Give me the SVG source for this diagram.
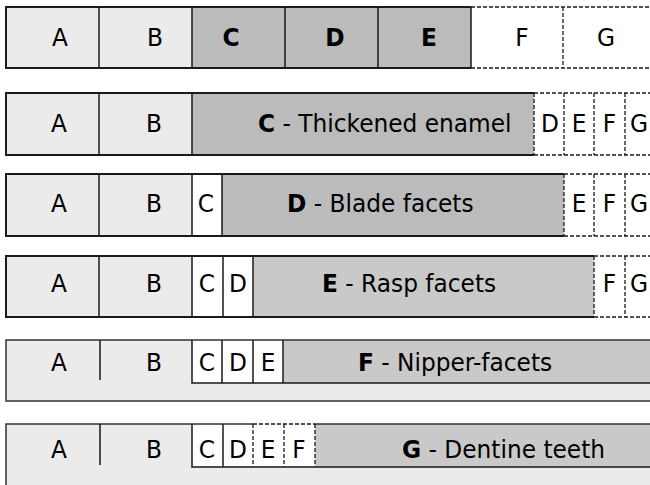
<svg xmlns="http://www.w3.org/2000/svg" width="650" height="485" viewBox="0 0 650 485">
<style>
.lt{fill:#ebebeb}
.g1{fill:#bbbbbb}
.g2{fill:#c9c9c9}
.w{fill:#ffffff}
.ol{stroke:#1a1a1a;stroke-width:2;fill:none}
.ln{stroke:#1a1a1a;stroke-width:1.5;fill:none}
.th{stroke:#333333;stroke-width:1.5;fill:none}
.ds{stroke:#1a1a1a;stroke-width:1.3;stroke-dasharray:4 2;fill:none}
text{font-family:"DejaVu Sans",Verdana,sans-serif;font-size:23.3px;fill:#000;text-anchor:middle}
.b{font-weight:bold}
.st{text-anchor:start}
</style>
<rect width="650" height="485" fill="#ffffff"/>

<g id="row1">
  <rect class="lt" x="6" y="7" width="186" height="61"/>
  <rect class="g1" x="192" y="7" width="279" height="61"/>
  <rect class="w" x="471" y="7" width="181" height="61"/>
  <path class="ol" d="M471,7 H6 V68 H471"/>
  <path class="ln" d="M99,7 V68 M192,7 V68 M285,7 V68 M378,7 V68 M471,7 V68"/>
  <path class="ds" d="M471,7 H652 M471,68 H652 M563,7 V68"/>
  <g transform="matrix(1 0 0 1.07 0 -3.22)">
  <text x="60" y="46">A</text>
  <text x="155" y="46">B</text>
  <text class="b" x="231" y="46">C</text>
  <text class="b" x="335" y="46">D</text>
  <text class="b" x="429" y="46">E</text>
  <text x="522" y="46">F</text>
  <text x="606" y="46">G</text>
  </g>
</g>

<g id="row2">
  <rect class="lt" x="6" y="93" width="186" height="62"/>
  <rect class="g1" x="192" y="93" width="342" height="62"/>
  <rect class="w" x="534" y="93" width="118" height="62"/>
  <path class="ol" d="M534,93 H6 V155 H534"/>
  <path class="ln" d="M99,93 V155 M192,93 V155"/>
  <path class="ds" d="M534,93 H652 M534,155 H652 M534,93 V155 M564,93 V155 M594,93 V155 M625,93 V155"/>
  <g transform="matrix(1 0 0 1.07 0 -9.24)">
  <text x="59" y="132">A</text>
  <text x="154" y="132">B</text>
  <text class="st" x="258" y="132"><tspan class="b">C</tspan> - Thickened enamel</text>
  <text x="550" y="132">D</text>
  <text x="579" y="132">E</text>
  <text x="609.5" y="132">F</text>
  <text x="639" y="132">G</text>
  </g>
</g>

<g id="row3">
  <rect class="lt" x="6" y="174" width="186" height="62"/>
  <rect class="w" x="192" y="174" width="30" height="62"/>
  <rect class="g1" x="222" y="174" width="342" height="62"/>
  <rect class="w" x="564" y="174" width="88" height="62"/>
  <path class="ol" d="M564,174 H6 V236 H564"/>
  <path class="ln" d="M99,174 V236 M192,174 V236 M222,174 V236"/>
  <path class="ds" d="M564,174 H652 M564,236 H652 M564,174 V236 M594,174 V236 M625,174 V236"/>
  <g transform="matrix(1 0 0 1.07 0 -14.84)">
  <text x="59" y="212">A</text>
  <text x="154" y="212">B</text>
  <text x="206" y="212">C</text>
  <text class="st" x="287" y="212"><tspan class="b">D</tspan> - Blade facets</text>
  <text x="579" y="212">E</text>
  <text x="609.5" y="212">F</text>
  <text x="639" y="212">G</text>
  </g>
</g>

<g id="row4">
  <rect class="lt" x="6" y="256" width="186" height="61"/>
  <rect class="w" x="192" y="256" width="61" height="61"/>
  <rect class="g2" x="253" y="256" width="341" height="61"/>
  <rect class="w" x="594" y="256" width="58" height="61"/>
  <path class="ol" d="M594,256 H6 V317 H594"/>
  <path class="ln" d="M99,256 V317 M192,256 V317 M223,256 V317 M253,256 V317"/>
  <path class="ds" d="M594,256 H652 M594,317 H652 M594,256 V317 M625,256 V317"/>
  <g transform="matrix(1 0 0 1.07 0 -20.44)">
  <text x="59" y="292">A</text>
  <text x="154" y="292">B</text>
  <text x="207" y="292">C</text>
  <text x="238" y="292">D</text>
  <text class="st" x="322" y="292"><tspan class="b">E</tspan> - Rasp facets</text>
  <text x="609.5" y="292">F</text>
  <text x="639" y="292">G</text>
  </g>
</g>

<g id="row5">
  <rect class="lt" x="6" y="340" width="646" height="61"/>
  <rect class="w" x="192" y="340" width="91" height="43"/>
  <rect class="g2" x="283" y="340" width="369" height="43"/>
  <rect class="th" x="6" y="340" width="646" height="61"/>
  <path class="ln" d="M192,340 V383 H652 M222,340 V383 M253,340 V383 M283,340 V383 M100,340 V380"/>
  <g transform="matrix(1 0 0 1.07 0 -25.97)">
  <text x="59" y="371">A</text>
  <text x="154" y="371">B</text>
  <text x="207" y="371">C</text>
  <text x="238" y="371">D</text>
  <text x="268" y="371">E</text>
  <text class="st" x="358" y="371"><tspan class="b">F</tspan> - Nipper-facets</text>
  </g>
</g>

<g id="row6">
  <rect class="lt" x="6" y="424" width="646" height="63"/>
  <rect class="w" x="192" y="424" width="123" height="43"/>
  <rect class="g2" x="315" y="424" width="337" height="43"/>
  <path class="th" d="M6,487 V424 H253 M315,424 H652"/>
  <path class="ln" d="M192,424 V467 H652 M223,424 V467 M100,424 V465"/>
  <path class="ds" d="M253,424 H315 M253,424 V467 M284,424 V467 M315,424 V467"/>
  <g transform="matrix(1 0 0 1.07 0 -32.06)">
  <text x="59" y="458">A</text>
  <text x="154" y="458">B</text>
  <text x="207" y="458">C</text>
  <text x="238" y="458">D</text>
  <text x="268" y="458">E</text>
  <text x="299" y="458">F</text>
  <text class="st" x="402" y="458"><tspan class="b">G</tspan> - Dentine teeth</text>
  </g>
</g>
</svg>
